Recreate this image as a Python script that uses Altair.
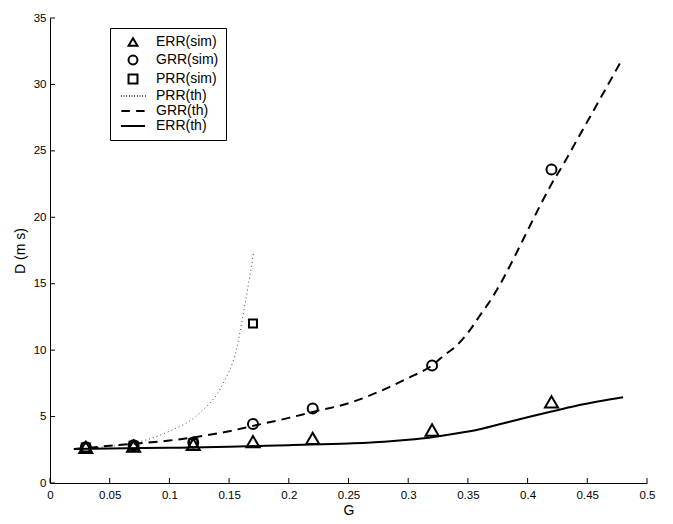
import altair as alt
import pandas as pd

FONT = "Liberation Sans"

series_names = ["ERR(sim)", "GRR(sim)", "PRR(sim)", "PRR(th)", "GRR(th)", "ERR(th)"]

# simulated points
err_sim_x = [0.03, 0.07, 0.12, 0.17, 0.22, 0.32, 0.42]
err_sim_y = [2.68, 2.78, 2.9, 3.11, 3.36, 3.99, 6.1]
grr_sim_x = [0.03, 0.07, 0.12, 0.17, 0.22, 0.32, 0.42]
grr_sim_y = [2.7, 2.85, 3.05, 4.44, 5.6, 8.85, 23.6]
prr_sim_x = [0.03, 0.07, 0.12, 0.17]
prr_sim_y = [2.68, 2.8, 3.0, 12.0]

# theoretical curves
prr_th_x = [0.02, 0.047, 0.075, 0.1, 0.125, 0.145, 0.156, 0.164, 0.1705]
prr_th_y = [2.55, 2.73, 3.11, 3.9, 5.24, 7.5, 10.0, 13.8, 17.3]
grr_th_x = [0.02, 0.05, 0.1, 0.125, 0.15, 0.17, 0.2, 0.22, 0.25, 0.28, 0.3, 0.32,
            0.33, 0.34, 0.35, 0.36, 0.37, 0.38, 0.39, 0.4, 0.41, 0.42, 0.43, 0.44,
            0.46, 0.478]
grr_th_y = [2.55, 2.8, 3.2, 3.5, 3.9, 4.3, 4.9, 5.35, 6.0, 7.05, 7.9, 8.85,
            9.6, 10.3, 11.3, 12.6, 13.9, 15.45, 17.2, 19.0, 20.8, 22.5, 24.0, 25.6,
            28.8, 31.7]
err_th_x = [0.02, 0.05, 0.1, 0.15, 0.2, 0.25, 0.28, 0.3, 0.32, 0.34, 0.36, 0.38,
            0.4, 0.42, 0.44, 0.46, 0.48]
err_th_y = [2.55, 2.6, 2.65, 2.72, 2.85, 2.97, 3.1, 3.25, 3.45, 3.72, 4.05, 4.5,
            4.95, 5.38, 5.8, 6.15, 6.45]

x_ticks = [0, 0.05, 0.1, 0.15, 0.2, 0.25, 0.3, 0.35, 0.4, 0.45, 0.5]
y_ticks = [0, 5, 10, 15, 20, 25, 30, 35]

W, H = 597, 465

# marker sizes per series (style)
marker_size = {"ERR(sim)": 170, "GRR(sim)": 100, "PRR(sim)": 64}

pts = pd.concat([
    pd.DataFrame({"G": err_sim_x, "D": err_sim_y, "series": "ERR(sim)"}),
    pd.DataFrame({"G": grr_sim_x, "D": grr_sim_y, "series": "GRR(sim)"}),
    pd.DataFrame({"G": prr_sim_x, "D": prr_sim_y, "series": "PRR(sim)"}),
], ignore_index=True)
pts["sz"] = pts["series"].map(marker_size)

prr_th = pd.DataFrame({"G": prr_th_x, "D": prr_th_y})
grr_th = pd.DataFrame({"G": grr_th_x, "D": grr_th_y})
err_th = pd.DataFrame({"G": err_th_x, "D": err_th_y})

xs = alt.Scale(domain=[0, 0.5], nice=False, zero=False)
ys = alt.Scale(domain=[0, 35], nice=False, zero=False)

# legend symbol shapes (line styles drawn as paths)
dotted = "".join(f"M{-2.7 + i * 0.6:.2f},0L{-2.7 + i * 0.6 + 0.15:.2f},0" for i in range(10))
dashed = "M-2.6,0L-0.7,0M0.7,0L2.6,0"
solid = "M-2.7,0L2.7,0"
shape_range = ["triangle-up", "circle", "square", dotted, dashed, solid]

xaxis = alt.Axis(values=x_ticks, ticks=False, grid=False, title="G", labelFlush=False,
                 labelPadding=6, titlePadding=3, labelFont=FONT, titleFont=FONT,
                 labelFontSize=11.5, titleFontSize=14, titleFontWeight="normal",
                 labelColor="black", titleColor="black", domainColor="black",
                 labelExpr="datum.value == 0 ? '0' : format(datum.value, '.2~f')")
yaxis = alt.Axis(values=y_ticks, ticks=False, grid=False, title="D (m s)",
                 labelPadding=4, titlePadding=6, labelFont=FONT, titleFont=FONT,
                 labelFontSize=11.5, titleFontSize=14, titleFontWeight="normal",
                 labelColor="black", titleColor="black", domainColor="black")

base_x = alt.X("G:Q", scale=xs, axis=xaxis)
base_y = alt.Y("D:Q", scale=ys, axis=yaxis)

points = alt.Chart(pts).mark_point(filled=False, strokeWidth=2, color="black", opacity=1).encode(
    x=base_x,
    y=base_y,
    shape=alt.Shape("series:N", scale=alt.Scale(domain=series_names, range=shape_range),
                    legend=alt.Legend(title=None, orient="none", legendX=60, legendY=10,
                                      strokeColor="black", fillColor="white", padding=7,
                                      symbolOffset=9, labelOffset=16, rowPadding=1,
                                      labelFontSize=14, labelFont=FONT, symbolSize=80,
                                      labelColor="black",
                                      symbolStrokeWidth=2, symbolStrokeColor="black",
                                      symbolFillColor="transparent", symbolOpacity=1,
                                      cornerRadius=0)),
    size=alt.Size("sz:Q", scale=None, legend=None),
)

line_prr = alt.Chart(prr_th).mark_line(color="#444", strokeWidth=1, strokeDash=[1, 3],
                                       interpolate="monotone").encode(
    x=alt.X("G:Q", scale=xs), y=alt.Y("D:Q", scale=ys))
line_grr = alt.Chart(grr_th).mark_line(color="black", strokeWidth=2, strokeDash=[9, 6],
                                       interpolate="monotone").encode(
    x=alt.X("G:Q", scale=xs), y=alt.Y("D:Q", scale=ys))
line_err = alt.Chart(err_th).mark_line(color="black", strokeWidth=2,
                                       interpolate="monotone").encode(
    x=alt.X("G:Q", scale=xs), y=alt.Y("D:Q", scale=ys))

xt = alt.Chart(pd.DataFrame({"t": x_ticks})).mark_tick(
    orient="vertical", size=5, thickness=1, color="black", opacity=1).encode(
    x=alt.X("t:Q", scale=xs), y=alt.value(H - 2.5))
yt = alt.Chart(pd.DataFrame({"t": y_ticks})).mark_tick(
    orient="horizontal", size=5, thickness=1, color="black", opacity=1).encode(
    y=alt.Y("t:Q", scale=ys), x=alt.value(2.5))

chart = alt.layer(line_prr, line_grr, line_err, xt, yt, points).properties(
    width=W, height=H,
    padding={"left": 50, "top": 18, "right": 26, "bottom": 41},
    autosize=alt.AutoSizeParams(type="none"),
    background="white",
).configure_view(stroke=None)

chart.save("out.html", embed_options={"renderer": "svg", "actions": False})
